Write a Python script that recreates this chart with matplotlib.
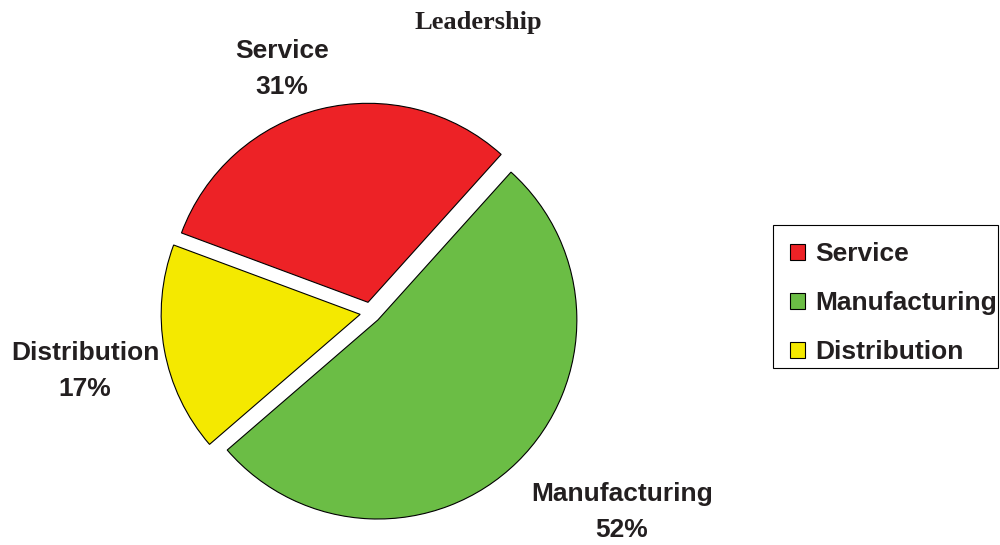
import matplotlib
matplotlib.use("Agg")
from matplotlib import pyplot as plt
from matplotlib.patches import Patch, Rectangle

# data (pie order, counterclockwise from the upper right)
sectors = ["Service", "Distribution", "Manufacturing"]
shares = [31, 17, 52]
colors = ["#ED2226", "#F4E900", "#6BBD45"]
legend_order = ["Service", "Manufacturing", "Distribution"]

W, H = 1000, 545
fig = plt.figure(figsize=(W / 100, H / 100), dpi=100)
ax = fig.add_axes([0, 0, 1, 1])

cx, cy, r = 370.5, H - 312.5, 199
# explode is in data units here (axes are in pixels)
ax.pie(shares, colors=colors, startangle=48, counterclock=True,
       explode=[10.5] * 3, center=(cx, cy), radius=r,
       wedgeprops=dict(edgecolor="black", linewidth=0.8))
ax.set_xlim(0, W)
ax.set_ylim(0, H)
ax.set_aspect("equal")
ax.axis("off")

lab_font = dict(family=["Liberation Sans", "DejaVu Sans"], fontsize=19,
                fontweight="bold", color="#231F20", ha="center", va="center",
                linespacing=1.62)
label_pos = {"Service": (282, 69), "Distribution": (85, 371), "Manufacturing": (622, 512)}
for name, val in zip(sectors, shares):
    x, y = label_pos[name]
    ax.text(x, H - y, f"{name}\n{val}%", **lab_font)

fig.text(478 / W, 1 - 22 / H, "Leadership", family=["Liberation Serif", "DejaVu Serif"],
         fontsize=19, fontweight="bold", color="#231F20", ha="center", va="center")

# legend box
ax.add_patch(Rectangle((773, H - 368), 225, 143, facecolor="white",
                       edgecolor="black", linewidth=0.8))
handles = [Patch(facecolor=colors[sectors.index(n)], edgecolor="black", linewidth=0.8)
           for n in legend_order]
leg = fig.legend(handles, legend_order, loc="center left",
                 bbox_to_anchor=(790 / W, 1 - 303 / H),
                 prop=dict(family=["Liberation Sans", "DejaVu Sans"], size=19, weight="bold"),
                 frameon=False, handlelength=0.55, handleheight=0.55,
                 handletextpad=0.4, labelspacing=0.95, borderpad=0, borderaxespad=0)
for t in leg.get_texts():
    t.set_color("#231F20")

fig.savefig("out.png", dpi=100)
